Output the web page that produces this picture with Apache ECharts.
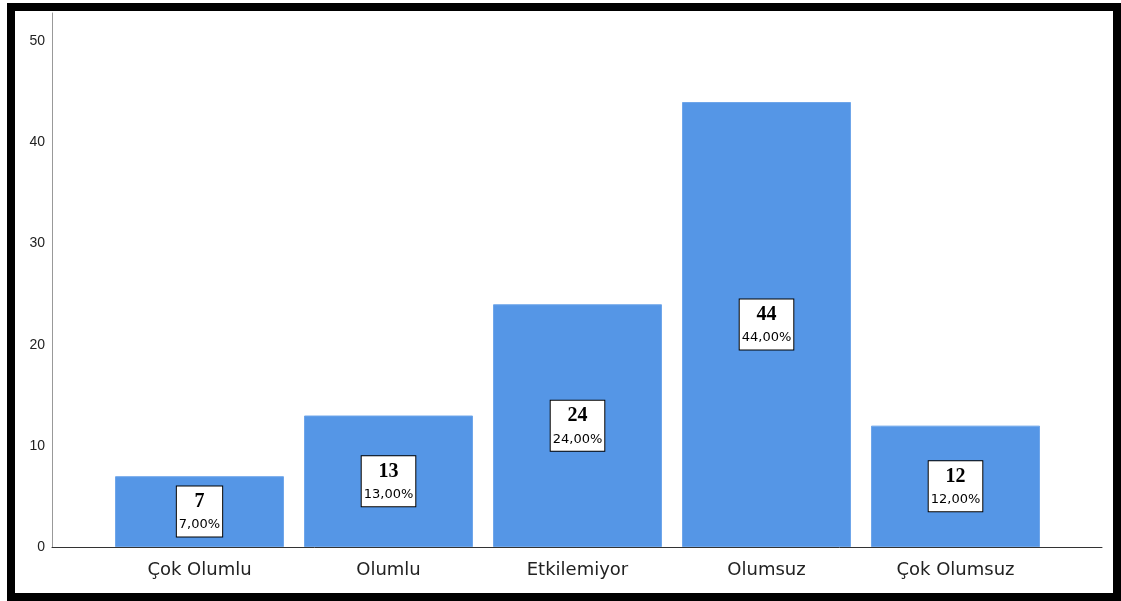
<!DOCTYPE html>
<html>
<head>
<meta charset="utf-8">
<script src="https://cdn.jsdelivr.net/npm/echarts@6/dist/echarts.min.js"></script>
<style>
html,body{margin:0;padding:0;background:#fff;}
#chart{position:absolute;left:0;top:0;width:1121px;height:601px;}
#frame{position:absolute;left:7px;top:3px;width:1114px;height:598px;box-sizing:border-box;border:8px solid #000;pointer-events:none;}
</style>
</head>
<body>
<div id="chart"></div>
<div id="frame"></div>
<script>
const categories = ['Çok Olumlu', 'Olumlu', 'Etkilemiyor', 'Olumsuz', 'Çok Olumsuz'];
const counts = [7, 13, 24, 44, 12];
const percentLabels = ['7,00%', '13,00%', '24,00%', '44,00%', '12,00%'];
const yTicks = [0, 10, 20, 30, 40, 50];

const yMax = 52.8;
const chart = echarts.init(document.getElementById('chart'));
chart.setOption({
  animation: false,
  grid: [
    {left: 52, right: 19, top: 13, bottom: 54},
    {left: 105, right: 71, top: 13, bottom: 54}
  ],
  xAxis: [
    {gridIndex: 0, type: 'value', min: 0, max: 1, axisLine: {show: true, lineStyle: {color: '#333', width: 1}},
     axisTick: {show: false}, axisLabel: {show: false}, splitLine: {show: false}},
    {gridIndex: 1, type: 'category', data: categories, axisLine: {show: false}, axisTick: {show: false},
     axisLabel: {fontFamily: '"DejaVu Sans", sans-serif', fontSize: 18, color: '#222', margin: 14}}
  ],
  yAxis: [
    {gridIndex: 0, type: 'value', min: 0, max: yMax, interval: 10,
     axisLine: {show: true, lineStyle: {color: '#999', width: 1}}, axisTick: {show: false}, splitLine: {show: false},
     axisLabel: {fontFamily: '"Liberation Sans", Arial, sans-serif', fontSize: 14, color: '#222', margin: 7,
       formatter: v => yTicks.includes(v) ? String(v) : ''}},
    {gridIndex: 1, type: 'value', min: 0, max: yMax, show: false}
  ],
  series: [{
    type: 'bar', xAxisIndex: 1, yAxisIndex: 1, data: counts, barWidth: 169,
    itemStyle: {color: '#5596e6', borderColor: '#6fa6ea', borderWidth: 1},
    label: {
      show: true, position: 'inside',
      formatter: p => '{a|' + p.value + '}\n{b|' + percentLabels[p.dataIndex] + '}',
      backgroundColor: '#fff', borderColor: '#000', borderWidth: 1, padding: [2, 2, 2, 2],
      rich: {
        a: {fontFamily: '"Liberation Serif", "Times New Roman", serif', fontWeight: 'bold', fontSize: 20, color: '#000', lineHeight: 27, align: 'center'},
        b: {fontFamily: '"DejaVu Sans", sans-serif', fontSize: 13, color: '#000', lineHeight: 19, align: 'center'}
      }
    }
  }]
});
</script>
</body>
</html>
